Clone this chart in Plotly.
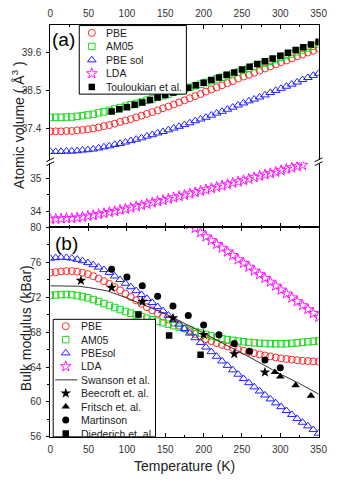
import plotly.graph_objects as go

W, H = 345, 482

# ---------------- data ----------------
T_model = [0, 7, 14, 21, 28, 35, 42, 49, 56, 63, 70, 77, 84, 91, 98, 105, 112, 119, 126, 133,
           140, 147, 154, 161, 168, 175, 182, 189, 196, 203, 210, 217, 224, 231, 238, 245, 252,
           259, 266, 273, 280, 287, 294, 301, 308, 315, 322, 329, 336, 343, 350]

vol_pbe = [37.33, 37.33, 37.33, 37.34, 37.34, 37.36, 37.37, 37.39, 37.41, 37.44, 37.48, 37.51,
           37.55, 37.60, 37.64, 37.68, 37.73, 37.78, 37.83, 37.88, 37.93, 37.99, 38.04, 38.10,
           38.16, 38.22, 38.28, 38.34, 38.40, 38.47, 38.53, 38.59, 38.65, 38.71, 38.77, 38.84,
           38.90, 38.95, 39.01, 39.07, 39.13, 39.19, 39.25, 39.31, 39.36, 39.42, 39.48, 39.53,
           39.59, 39.64, 39.70]
vol_am05 = [37.73, 37.73, 37.73, 37.74, 37.74, 37.76, 37.78, 37.80, 37.82, 37.86, 37.89, 37.93,
            37.97, 38.01, 38.05, 38.09, 38.13, 38.17, 38.22, 38.26, 38.31, 38.35, 38.40, 38.45,
            38.49, 38.54, 38.59, 38.64, 38.68, 38.73, 38.78, 38.83, 38.88, 38.93, 38.98, 39.03,
            39.08, 39.13, 39.19, 39.24, 39.29, 39.34, 39.39, 39.45, 39.50, 39.55, 39.61, 39.66,
            39.72, 39.77, 39.83]
vol_pbesol = [36.75, 36.75, 36.75, 36.76, 36.76, 36.77, 36.79, 36.80, 36.82, 36.85, 36.88, 36.91,
              36.95, 36.98, 37.02, 37.06, 37.10, 37.14, 37.19, 37.23, 37.28, 37.32, 37.37, 37.42,
              37.47, 37.52, 37.57, 37.63, 37.68, 37.73, 37.79, 37.85, 37.90, 37.96, 38.02, 38.08,
              38.14, 38.20, 38.25, 38.31, 38.37, 38.44, 38.50, 38.56, 38.62, 38.68, 38.74, 38.81,
              38.87, 38.93, 38.99]
T_lda_vol = [0, 7, 14, 21, 28, 35, 42, 49, 56, 63, 70, 77, 84, 91, 98, 105, 112, 119, 126, 133,
             140, 147, 154, 161, 168, 175, 182, 189, 196, 203, 210, 217, 224, 231, 238, 245, 252,
             259, 266, 273, 280, 287, 294, 301, 308, 315, 322, 329]
vol_lda = [33.78, 33.78, 33.79, 33.80, 33.80, 33.82, 33.84, 33.87, 33.89, 33.92, 33.95, 33.98,
           34.01, 34.05, 34.08, 34.12, 34.16, 34.19, 34.23, 34.27, 34.31, 34.34, 34.38, 34.42,
           34.46, 34.50, 34.54, 34.58, 34.62, 34.66, 34.70, 34.74, 34.78, 34.82, 34.86, 34.90,
           34.94, 34.98, 35.03, 35.07, 35.11, 35.15, 35.19, 35.24, 35.28, 35.32, 35.36, 35.40]
T_touloukian = [80, 90, 100, 110, 120, 130, 140, 150, 160, 170, 180, 190, 200, 210, 220, 230,
                240, 250, 260, 270, 280, 290, 300, 310, 320, 330, 340, 350]
vol_touloukian = [37.90, 37.96, 38.02, 38.09, 38.16, 38.23, 38.30, 38.37, 38.44, 38.51, 38.58,
                  38.65, 38.72, 38.80, 38.87, 38.95, 39.02, 39.10, 39.18, 39.26, 39.34, 39.42,
                  39.50, 39.58, 39.66, 39.74, 39.82, 39.90]

bulk_pbe = [74.80, 74.86, 74.93, 74.98, 74.99, 74.91, 74.79, 74.63, 74.40, 74.13, 73.83, 73.52,
            73.15, 72.78, 72.40, 72.02, 71.63, 71.24, 70.85, 70.48, 70.12, 69.76, 69.41, 69.07,
            68.74, 68.40, 68.09, 67.78, 67.48, 67.19, 66.96, 66.74, 66.53, 66.36, 66.19, 66.02,
            65.86, 65.72, 65.58, 65.44, 65.32, 65.21, 65.10, 64.99, 64.92, 64.85, 64.78, 64.72,
            64.68, 64.64, 64.60]
bulk_am05 = [72.20, 72.25, 72.29, 72.31, 72.29, 72.18, 72.06, 71.92, 71.72, 71.50, 71.26, 71.04,
             70.81, 70.58, 70.36, 70.16, 69.96, 69.77, 69.58, 69.41, 69.24, 69.07, 68.90, 68.74,
             68.57, 68.40, 68.23, 68.06, 67.90, 67.73, 67.56, 67.39, 67.22, 67.13, 67.05, 66.97,
             66.89, 66.82, 66.77, 66.72, 66.69, 66.67, 66.66, 66.65, 66.67, 66.71, 66.77, 66.83,
             66.89, 66.94, 67.00]
bulk_pbesol = [76.45, 76.50, 76.55, 76.53, 76.46, 76.32, 76.16, 75.94, 75.70, 75.43, 75.14, 74.82,
               74.41, 74.00, 73.58, 73.18, 72.73, 72.28, 71.84, 71.37, 70.90, 70.42, 69.91, 69.41,
               68.90, 68.40, 67.87, 67.34, 66.80, 66.27, 65.74, 65.21, 64.68, 64.17, 63.66, 63.16,
               62.66, 62.19, 61.71, 61.24, 60.78, 60.33, 59.88, 59.44, 59.00, 58.55, 58.08, 57.66,
               57.24, 56.82, 56.40]
T_lda_bulk = [175, 182, 189, 196, 203, 210, 217, 224, 231, 238, 245, 252, 259, 266, 273, 280,
              287, 294, 301, 308, 315, 322, 329, 336, 343, 350]
bulk_lda = [80.80, 80.35, 79.90, 79.40, 78.93, 78.50, 78.06, 77.63, 77.20, 76.80, 76.30, 75.90,
            75.46, 75.00, 74.60, 74.17, 73.74, 73.30, 72.84, 72.40, 71.95, 71.50, 71.05, 70.60,
            70.15, 69.70]

T_swanson = [0, 25, 37, 50, 75, 100, 125, 150, 175, 200, 225, 250, 275, 300, 325, 350]
bulk_swanson = [73.3, 73.3, 73.25, 73.1, 72.7, 71.9, 71.0, 70.1, 69.0, 67.9, 66.7, 65.6, 64.4,
                63.2, 62.1, 60.9]
T_beecroft = [40, 80, 120, 160, 200, 240, 280]
bulk_beecroft = [73.9, 73.1, 71.5, 69.6, 67.7, 65.5, 63.4]
T_fritsch = [293, 300, 320, 340]
bulk_fritsch = [63.4, 62.9, 61.9, 60.7]
T_martinson = [80, 100, 120, 140, 160, 180, 200, 220, 240, 260, 280, 300]
bulk_martinson = [75.2, 74.3, 73.3, 72.1, 71.0, 69.9, 68.8, 67.7, 66.7, 65.8, 64.8, 63.9]
T_diederich = [115, 155, 196]
bulk_diederich = [70.0, 67.6, 65.4]

legend_a_labels = ["PBE", "AM05", "PBE sol", "LDA", "Touloukian et al."]
legend_b_labels = ["PBE", "AM05", "PBEsol", "LDA", "Swanson et al.", "Beecroft et. al.",
                   "Fritsch et. al.", "Martinson", "Diederich et. al."]

# ---------------- styles ----------------
FONT = "Liberation Sans, Arial, sans-serif"
TICKC = "#333333"
RED, GREEN, BLUE, MAG, BLK = "#ff2a2a", "#1ed81e", "#2020ff", "#ff1aff", "#000000"

X0, X1 = 49, 327
Y_TOP, Y_BRK, Y_MID, Y_BOT = 20, 160, 227, 441


def px(x):
    return x / W


def py(y):
    return 1 - y / H


sty = {
    "pbe": dict(symbol="circle-open", size=7, color=RED, line=dict(width=1, color=RED)),
    "am05": dict(symbol="square-open", size=6.5, color=GREEN, line=dict(width=1, color=GREEN)),
    "pbesol": dict(symbol="triangle-up-open", size=7.5, color=BLUE, line=dict(width=1, color=BLUE)),
    "lda": dict(symbol="star-open", size=8, color=MAG, line=dict(width=1, color=MAG)),
    "toul": dict(symbol="square", size=6.5, color=BLK),
    "beec": dict(symbol="star", size=8, color=BLK),
    "frit": dict(symbol="triangle-up", size=7.5, color=BLK),
    "mart": dict(symbol="circle", size=7, color=BLK),
    "died": dict(symbol="square", size=6.5, color=BLK),
}

fig = go.Figure()


def sc(x, y, key, xa, ya):
    fig.add_trace(go.Scatter(x=x, y=y, mode="markers", marker=sty[key], xaxis=xa, yaxis=ya,
                             showlegend=False, hoverinfo="skip"))


# panel (a) upper segment (x3 / y3)
sc(T_model, vol_pbe, "pbe", "x3", "y3")
sc(T_model, vol_am05, "am05", "x3", "y3")
sc(T_model, vol_pbesol, "pbesol", "x3", "y3")
sc(T_touloukian, vol_touloukian, "toul", "x3", "y3")
# panel (a) lower segment (x2 / y2)
sc(T_lda_vol, vol_lda, "lda", "x2", "y2")

# panel (b)
sc(T_model, bulk_pbe, "pbe", "x", "y")
sc(T_model, bulk_am05, "am05", "x", "y")
sc(T_model, bulk_pbesol, "pbesol", "x", "y")
sc(T_lda_bulk, bulk_lda, "lda", "x", "y")
fig.add_trace(go.Scatter(x=T_swanson, y=bulk_swanson, mode="lines", line=dict(color="#333", width=1),
                         xaxis="x", yaxis="y", showlegend=False, hoverinfo="skip"))
sc(T_diederich, bulk_diederich, "died", "x", "y")
sc(T_martinson, bulk_martinson, "mart", "x", "y")
sc(T_fritsch, bulk_fritsch, "frit", "x", "y")
sc(T_beecroft, bulk_beecroft, "beec", "x", "y")

# ---------------- legends (pixel overlay axis drawn on top) ----------------
LEG_A = dict(x0=79, y0=21, x1=190, y1=91, sym=92, txt=105, row0=28.5, dy=13.8,
             keys=["pbe", "am05", "pbesol", "lda", "toul"], labels=legend_a_labels)
LEG_B = dict(x0=52, y0=321, x1=158, y1=441, sym=65, txt=79, row0=328, dy=13.7,
             keys=["pbe", "am05", "pbesol", "lda", None, "beec", "frit", "mart", "died"],
             labels=legend_b_labels)

shapes = []
annotations = []
for L in (LEG_A, LEG_B):
    fig.add_trace(go.Scatter(x=[L["x0"], L["x1"], L["x1"], L["x0"], L["x0"]],
                             y=[L["y0"], L["y0"], L["y1"], L["y1"], L["y0"]],
                             mode="lines", fill="toself", fillcolor="white",
                             line=dict(color="black", width=1), xaxis="x9", yaxis="y9",
                             showlegend=False, hoverinfo="skip", cliponaxis=False))
    for i, (k, lab) in enumerate(zip(L["keys"], L["labels"])):
        yy = L["row0"] + i * L["dy"]
        if k is None:
            fig.add_trace(go.Scatter(x=[L["x0"] + 2, L["txt"] - 2], y=[yy, yy], mode="lines",
                                     line=dict(color="#333", width=1), xaxis="x9", yaxis="y9",
                                     showlegend=False, hoverinfo="skip", cliponaxis=False))
        else:
            fig.add_trace(go.Scatter(x=[L["sym"]], y=[yy], mode="markers", marker=sty[k],
                                     xaxis="x9", yaxis="y9", showlegend=False, hoverinfo="skip",
                                     cliponaxis=False))
        annotations.append(dict(x=px(L["txt"]), y=py(yy), xref="paper", yref="paper", text=lab,
                                showarrow=False, xanchor="left", yanchor="middle",
                                font=dict(family=FONT, size=10.5, color="#222")))

# axis-break marks
for xs in (X0, X1):
    shapes.append(dict(type="rect", xref="paper", yref="paper", x0=px(xs - 3), x1=px(xs + 3),
                       y0=py(Y_BRK + 2), y1=py(Y_BRK - 2), line=dict(width=0), fillcolor="white",
                       layer="above"))
    for d in (-2, 2):
        shapes.append(dict(type="line", xref="paper", yref="paper", x0=px(xs - 4),
                           y0=py(Y_BRK + d + 2), x1=px(xs + 4), y1=py(Y_BRK + d - 2),
                           line=dict(color="black", width=1), layer="above"))


def ann(x, y, text, size, angle=0, color="#222"):
    return dict(x=px(x), y=py(y), xref="paper", yref="paper", text=text, showarrow=False,
                xanchor="center", yanchor="middle", textangle=angle,
                font=dict(family=FONT, size=size, color=color))


annotations += [
    ann(63, 35, "(a)", 19, color="black"),
    ann(66, 244, "(b)", 19, color="black"),
    ann(188, 471, "Temperature (K)", 14),
    ann(16, 122, "Atomic volume ( Å<sup>3</sup> )", 14, angle=-90),
    ann(24, 330, "Bulk modulus (kBar)", 14, angle=-90),
]

# ---------------- axes ----------------
xdom = [px(X0), px(X1)]
tickfont = dict(family=FONT, size=10, color=TICKC)
xcommon = dict(domain=xdom, range=[0, 350], showgrid=False, zeroline=False, showline=True,
               linecolor="black", linewidth=1, ticks="inside", ticklen=4, tickcolor="black",
               tick0=0, dtick=50, minor=dict(dtick=25, ticklen=2, ticks="inside", tickcolor="black"),
               tickfont=tickfont, ticklabelstandoff=3, fixedrange=True)
ycommon = dict(showgrid=False, zeroline=False, showline=True, linecolor="black", linewidth=1,
               ticks="outside", ticklen=3, tickcolor="black", tickfont=tickfont,
               ticklabelstandoff=3, mirror=True, fixedrange=True)
yright = dict(showgrid=False, zeroline=False, showline=False, ticks="inside", ticklen=3,
              tickcolor="black", showticklabels=False, side="right", fixedrange=True)

dom_b = [py(Y_BOT), py(Y_MID)]
dom_lo = [py(Y_MID), py(Y_BRK)]
dom_up = [py(Y_BRK), py(Y_TOP)]
r_b, r_lo, r_up = [56, 80], [33.53, 35.5], [36.46, 40.39]

fig.update_layout(
    width=W, height=H, margin=dict(l=0, r=0, t=0, b=0, pad=0),
    paper_bgcolor="white", plot_bgcolor="rgba(0,0,0,0)", showlegend=False,
    xaxis=dict(**xcommon, anchor="y", side="bottom", mirror="ticks"),
    xaxis2=dict(**xcommon, anchor="y2", side="bottom", showticklabels=False),
    xaxis3=dict(**xcommon, anchor="y3", side="top"),
    yaxis=dict(**ycommon, domain=dom_b, range=r_b, anchor="x", tick0=56, dtick=4,
               minor=dict(dtick=2, ticklen=2, ticks="outside", tickcolor="black")),
    yaxis2=dict(**ycommon, domain=dom_lo, range=r_lo, anchor="x2", tick0=34, dtick=1,
                minor=dict(dtick=0.5, ticklen=2, ticks="outside", tickcolor="black")),
    yaxis3=dict(**ycommon, domain=dom_up, range=r_up, anchor="x3", tick0=37.4, dtick=1.1),
    # right-hand inward ticks
    yaxis4=dict(**yright, domain=dom_b, range=r_b, anchor="x", tick0=56, dtick=4,
                minor=dict(dtick=2, ticklen=2, ticks="inside", tickcolor="black")),
    yaxis5=dict(**yright, domain=dom_lo, range=r_lo, anchor="x2", tick0=34, dtick=0.5),
    yaxis6=dict(**yright, domain=dom_up, range=r_up, anchor="x3", tick0=37.4, dtick=1.1),
    xaxis9=dict(domain=[0, 1], range=[0, W], visible=False, anchor="y9", fixedrange=True),
    yaxis9=dict(domain=[0, 1], range=[H, 0], visible=False, anchor="x9", fixedrange=True),
    shapes=shapes, annotations=annotations,
)

fig.write_html("out.html")
